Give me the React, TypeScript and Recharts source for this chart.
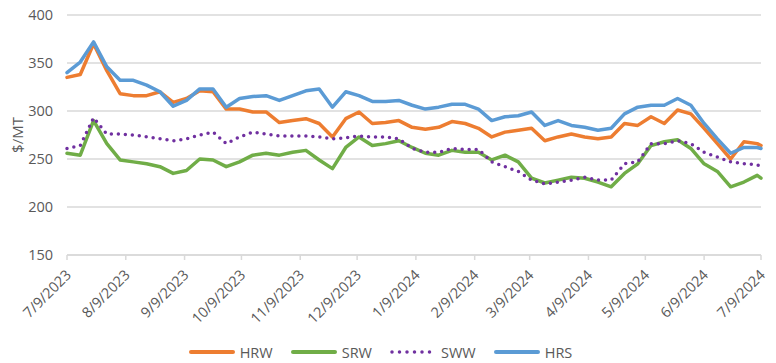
import { CartesianGrid, Legend, Line, LineChart, XAxis, YAxis } from "recharts"

// weekly observations starting 7/9/2023 (day offsets), last point on 7/9/2024
const days = [...Array.from({ length: 53 }, (_, i) => i * 7), 366]

const hrw = [
  335, 338, 370, 342, 318, 316, 316, 320, 309,
  313, 321, 320, 302, 302, 299, 299, 288, 290,
  292, 287, 273, 292, 299, 287, 288, 290, 283,
  281, 283, 289, 287, 282, 273, 278, 280, 282,
  269, 273, 276, 273, 271, 273, 287, 285, 294,
  287, 301, 297, 282, 266, 250, 268, 266, 264,
]
const srw = [
  256, 254, 290, 266, 249, 247, 245, 242, 235,
  238, 250, 249, 242, 247, 254, 256, 254, 257,
  259, 249, 240, 262, 273, 264, 266, 269, 262,
  256, 254, 259, 257, 257, 249, 254, 247, 230,
  225, 228, 231, 230, 226, 221, 235, 245, 264,
  268, 270, 261, 245, 237, 221, 226, 233, 230,
]
const sww = [
  261, 264, 293, 276, 276, 275, 273, 271, 269,
  271, 275, 278, 266, 273, 278, 276, 274, 274,
  274, 273, 271, 272, 274, 273, 273, 271, 261,
  257, 257, 261, 260, 260, 247, 242, 237, 228,
  224, 226, 228, 231, 228, 228, 245, 247, 266,
  266, 269, 266, 257, 252, 247, 245, 244, 242,
]
const hrs = [
  340, 351, 372, 346, 332, 332, 327, 320, 305,
  311, 323, 323, 304, 313, 315, 316, 311, 316,
  321, 323, 304, 320, 316, 310, 310, 311, 306,
  302, 304, 307, 307, 302, 290, 294, 295, 299,
  285, 290, 285, 283, 280, 282, 297, 304, 306,
  306, 313, 306, 287, 271, 256, 262, 262, 261,
]

const tickDays = [0, 31, 62, 92, 123, 153, 184, 215, 244, 275, 305, 336, 366]
const tickLabels = [
  "7/9/2023", "8/9/2023", "9/9/2023", "10/9/2023", "11/9/2023", "12/9/2023",
  "1/9/2024", "2/9/2024", "3/9/2024", "4/9/2024", "5/9/2024", "6/9/2024", "7/9/2024",
]
const yTicks = [150, 200, 250, 300, 350, 400]

const series = [
  { key: "HRW", color: "#ED7D31", dotted: false },
  { key: "SRW", color: "#70AD47", dotted: false },
  { key: "SWW", color: "#7030A0", dotted: true },
  { key: "HRS", color: "#5B9BD5", dotted: false },
]

const data = days.map((d, i) => ({ day: d, HRW: hrw[i], SRW: srw[i], SWW: sww[i], HRS: hrs[i] }))

const font = "'Open Sans', sans-serif"
const textColor = "#595959"
const gridColor = "#d9d9d9"

function DateTick({ x, y, payload }: any) {
  const idx = tickDays.indexOf(payload.value)
  const ax = x + 5
  const ay = y + 16
  return (
    <text x={ax} y={ay} transform={`rotate(-45, ${ax}, ${ay})`} textAnchor="end" fill={textColor} fontSize={14.5} fontFamily={font}>
      {tickLabels[idx]}
    </text>
  )
}

function LegendBox() {
  return (
    <div style={{ display: "flex", justifyContent: "center", alignItems: "center", height: 22, fontFamily: font, fontSize: 14.5, color: textColor }}>
      {series.map((s) => (
        <div key={s.key} style={{ display: "flex", alignItems: "center", margin: "0 9px" }}>
          <svg width={46} height={6} style={{ marginRight: 5 }}>
            <line x1={2} y1={3} x2={44} y2={3} stroke={s.color} strokeWidth={s.dotted ? 3.5 : 4}
              strokeLinecap="round" strokeDasharray={s.dotted ? "0 7.5" : undefined} />
          </svg>
          <span>{s.key}</span>
        </div>
      ))}
    </div>
  )
}

export default function App() {
  return (
    <div style={{ position: "absolute", left: 0, top: 0, background: "#fff" }}>
      <LineChart width={776} height={363} data={data} margin={{ top: 15, right: 15, left: 0, bottom: 0 }}>
        <CartesianGrid vertical={false} stroke={gridColor} strokeWidth={1.5} />
        <XAxis
          dataKey="day"
          type="number"
          domain={[0, 366]}
          ticks={tickDays}
          interval={0}
          height={86}
          tick={<DateTick />}
          tickSize={5}
          tickMargin={0}
          axisLine={{ stroke: gridColor, strokeWidth: 1.5 }}
          tickLine={{ stroke: gridColor, strokeWidth: 1.5 }}
        />
        <YAxis
          domain={[150, 400]}
          ticks={yTicks}
          width={67}
          axisLine={false}
          tickLine={false}
          tickSize={0}
          tickMargin={14}
          tick={{ fill: textColor, fontSize: 14.5, fontFamily: font }}
          label={({ viewBox }: any) => {
            const cy = viewBox.y + viewBox.height / 2
            return (
              <text x={17} y={cy} transform={`rotate(-90, 17, ${cy})`} textAnchor="middle" dominantBaseline="central"
                fill={textColor} fontSize={15} fontFamily={font}>
                $/MT
              </text>
            )
          }}
        />
        <Legend verticalAlign="bottom" height={22} content={() => <LegendBox />} />
        {series.map((s) => (
          <Line
            key={s.key}
            dataKey={s.key}
            type="linear"
            stroke={s.color}
            strokeWidth={3.5}
            strokeDasharray={s.dotted ? "0 7" : undefined}
            strokeLinecap="round"
            strokeLinejoin="round"
            dot={false}
            activeDot={false}
            isAnimationActive={false}
          />
        ))}
      </LineChart>
    </div>
  )
}
